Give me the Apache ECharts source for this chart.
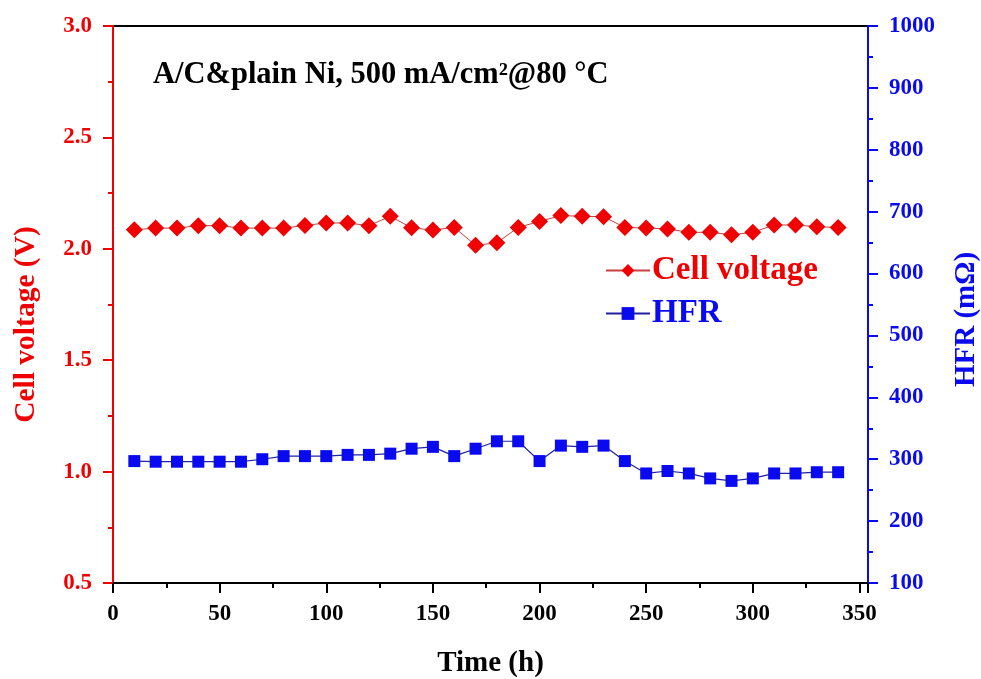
<!DOCTYPE html>
<html>
<head>
<meta charset="utf-8">
<script src="https://cdn.jsdelivr.net/npm/echarts@6/dist/echarts.min.js"></script>
<style>html,body{margin:0;padding:0;background:#fff}#c{width:981px;height:679px}</style>
</head>
<body>
<div id="c"></div>
<script>
const timeH = [10,20,30,40,50,60,70,80,90,100,110,120,130,140,150,160,170,180,190,200,210,220,230,240,250,260,270,280,290,300,310,320,330,340];
const cellVoltage = [2.085,2.093,2.093,2.104,2.104,2.093,2.093,2.093,2.105,2.116,2.116,2.104,2.146,2.094,2.084,2.096,2.016,2.027,2.096,2.123,2.149,2.146,2.144,2.096,2.093,2.089,2.074,2.074,2.063,2.074,2.107,2.107,2.099,2.096];
const hfr = [297,296,296,296,296,296,300,305,305,305,307,307,309,317,320,305,317,329,329,297,322,320,322,297,277,281,277,269,265,269,277,277,279,279];
const leftTicks = {min:0.5, max:3.0, interval:0.5};
const rightTicks = {min:100, max:1000, interval:100};
const xTicks = {min:0, max:354, interval:50};

const FONT = '"Liberation Serif","Times New Roman",serif';
const RED = '#f00000';
const BLUE = '#0a0af0';
const chart = echarts.init(document.getElementById('c'));
chart.setOption({
  animation:false,
  backgroundColor:'#fff',
  title:{
    text:'A/C&plain Ni, 500 mA/cm²@80 °C',
    left:148, top:55,
    textStyle:{fontFamily:FONT, fontWeight:'bold', fontSize:30.5, color:'#000'}
  },
  legend:{
    orient:'vertical', left:600, top:249, itemGap:10,
    itemWidth:44, itemHeight:16,
    textStyle:{fontFamily:FONT, fontWeight:'bold', fontSize:33, padding:[0,0,0,-3]},
    data:[
      {name:'Cell voltage', textStyle:{color:RED}},
      {name:'HFR', textStyle:{color:BLUE}}
    ]
  },
  grid:{left:113, right:113, top:26, bottom:96, outerBoundsMode:'none', containLabel:false,
    show:true, borderColor:'#000', borderWidth:2, backgroundColor:'transparent'},
  xAxis:{
    type:'value', min:xTicks.min, max:xTicks.max, interval:xTicks.interval,
    name:'Time (h)', nameLocation:'middle', nameGap:66,
    nameTextStyle:{fontFamily:FONT, fontWeight:'bold', fontSize:29, color:'#000'},
    axisLine:{show:true, onZero:false, lineStyle:{color:'#000', width:2}},
    axisTick:{show:true, inside:false, length:10, lineStyle:{color:'#000', width:2}},
    minorTick:{show:true, splitNumber:2, length:5, lineStyle:{color:'#000', width:2}},
    splitLine:{show:false},
    axisLabel:{fontFamily:FONT, fontWeight:'bold', fontSize:23, color:'#000', margin:20,
      formatter:v => (v % 50 === 0 ? String(v) : '')}
  },
  yAxis:[
    {
      type:'value', min:leftTicks.min, max:leftTicks.max, interval:leftTicks.interval, position:'left',
      name:'Cell voltage (V)', nameLocation:'middle', nameGap:72,
      nameTextStyle:{fontFamily:FONT, fontWeight:'bold', fontSize:29.5, color:RED, padding:[0,40,0,0]},
      axisLine:{show:true, lineStyle:{color:RED, width:2}},
      axisTick:{show:true, length:10, lineStyle:{color:RED, width:2}},
      minorTick:{show:true, splitNumber:2, length:5, lineStyle:{color:RED, width:2}},
      splitLine:{show:false},
      axisLabel:{fontFamily:FONT, fontWeight:'bold', fontSize:23, color:RED, margin:21,
        formatter:v => v.toFixed(1)}
    },
    {
      type:'value', min:rightTicks.min, max:rightTicks.max, interval:rightTicks.interval, position:'right',
      name:'HFR (mΩ)', nameLocation:'middle', nameGap:84,
      nameTextStyle:{fontFamily:FONT, fontWeight:'bold', fontSize:29, color:BLUE, padding:[0,30,0,0]},
      axisLine:{show:true, lineStyle:{color:BLUE, width:2}},
      axisTick:{show:true, length:10, lineStyle:{color:BLUE, width:2}},
      minorTick:{show:true, splitNumber:2, length:5, lineStyle:{color:BLUE, width:2}},
      splitLine:{show:false},
      axisLabel:{fontFamily:FONT, fontWeight:'bold', fontSize:23, color:BLUE, margin:21,
        formatter:v => String(v)}
    }
  ],
  series:[
    {
      name:'Cell voltage', type:'line', yAxisIndex:0,
      data:timeH.map((t,i)=>[t, cellVoltage[i]]),
      symbol:'diamond', symbolSize:17,
      itemStyle:{color:RED},
      lineStyle:{color:'#c84040', width:1},
      z:3
    },
    {
      name:'HFR', type:'line', yAxisIndex:1,
      data:timeH.map((t,i)=>[t, hfr[i]]),
      symbol:'rect', symbolSize:12,
      itemStyle:{color:BLUE},
      lineStyle:{color:'#2020a0', width:1.2},
      z:2
    }
  ]
});
</script>
</body>
</html>
